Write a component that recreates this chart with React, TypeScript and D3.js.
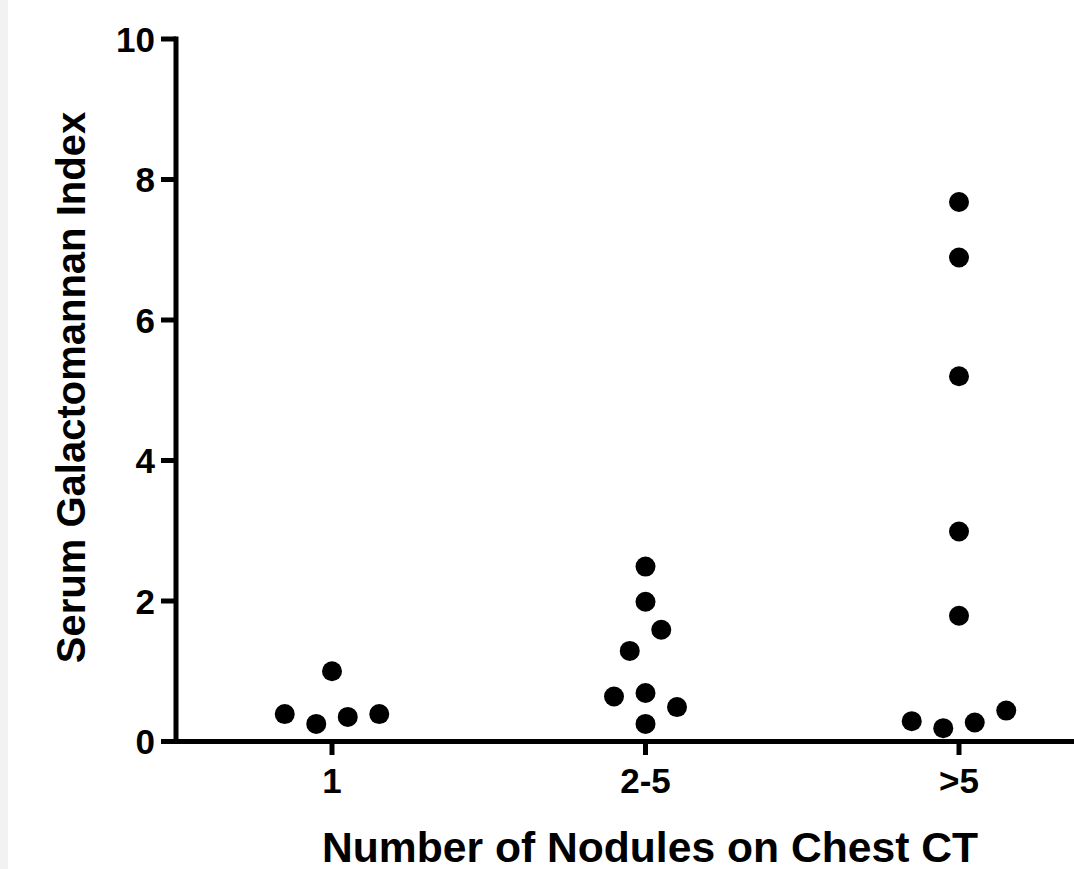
import React from "react";
import * as d3 from "d3";

const categories = ["1", "2-5", ">5"];
const values1 = [0.39, 0.25, 1.0, 0.35, 0.39];
const slots1 = [-1.5, -0.5, 0, 0.5, 1.5];
const values2 = [2.49, 1.99, 1.59, 1.29, 0.64, 0.69, 0.49, 0.25];
const slots2 = [0, 0, 0.5, -0.5, -1, 0, 1, 0];
const values3 = [7.68, 6.89, 5.2, 2.99, 1.79, 0.29, 0.19, 0.27, 0.44];
const slots3 = [0, 0, 0, 0, 0, -1.5, -0.5, 0.5, 1.5];
const yTicks = [0, 2, 4, 6, 8, 10];

const W = 1074;
const H = 869;
const FONT = "'Liberation Sans', Arial, Helvetica, sans-serif";

export default function App() {
  const x = d3.scalePoint<string>().domain(categories).range([332, 959]);
  const y = d3.scaleLinear().domain([0, 10]).range([741.5, 39]);
  const slotW = 31.5;
  const groups = [
    { cat: categories[0], vals: values1, slots: slots1 },
    { cat: categories[1], vals: values2, slots: slots2 },
    { cat: categories[2], vals: values3, slots: slots3 },
  ];
  const axisX = 176;
  const axisY = y(0);
  return (
    <svg
      width={W}
      height={H}
      style={{ position: "absolute", left: 0, top: 0, background: "#fff" }}
      fontFamily={FONT}
    >
      <rect x={0} y={0} width={8} height={H} fill="#f2f2f2" />
      {/* y axis */}
      <line x1={axisX} x2={axisX} y1={y(10) - 2.5} y2={axisY + 2.5} stroke="#000" strokeWidth={5} />
      {yTicks.map((t) => (
        <g key={t}>
          <line x1={161} x2={axisX} y1={y(t)} y2={y(t)} stroke="#000" strokeWidth={5} />
          <text x={155} y={y(t)} dy="0.36em" textAnchor="end" fontSize={35} fontWeight="bold">
            {t}
          </text>
        </g>
      ))}
      {/* x axis */}
      <line x1={axisX - 2.5} x2={W} y1={axisY} y2={axisY} stroke="#000" strokeWidth={5} />
      {categories.map((c) => (
        <g key={c}>
          <line x1={x(c)!} x2={x(c)!} y1={axisY} y2={755} stroke="#000" strokeWidth={5} />
          <text x={x(c)!} y={793} textAnchor="middle" fontSize={35} fontWeight="bold">
            {c}
          </text>
        </g>
      ))}
      {/* points */}
      {groups.map((g) =>
        g.vals.map((v, i) => (
          <circle key={g.cat + i} cx={x(g.cat)! + g.slots[i] * slotW} cy={y(v)} r={10} fill="#000" />
        ))
      )}
      {/* titles */}
      <text
        transform={`translate(85,387.5) rotate(-90)`}
        textAnchor="middle"
        fontSize={40}
        fontWeight="bold"
      >
        Serum Galactomannan Index
      </text>
      <text
        x={650}
        y={862}
        textAnchor="middle"
        fontSize={42}
        fontWeight="bold"
        textLength={656}
        lengthAdjust="spacingAndGlyphs"
      >
        Number of Nodules on Chest CT
      </text>
    </svg>
  );
}
